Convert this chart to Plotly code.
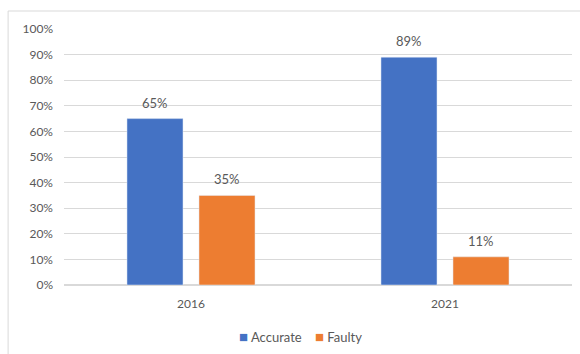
import plotly.graph_objects as go

years = ["2016", "2021"]
accurate = [0.65, 0.89]
faulty = [0.35, 0.11]
y_ticks = [0, 0.1, 0.2, 0.3, 0.4, 0.5, 0.6, 0.7, 0.8, 0.9, 1.0]

FONT = "Lato, Liberation Sans, sans-serif"
BLUE = "#4472c4"
ORANGE = "#ed7d31"
GREY = "#595959"

series = [("Accurate", accurate, BLUE, -36), ("Faulty", faulty, ORANGE, 36)]

fig = go.Figure()
annotations = []
for name, vals, color, shift in series:
    fig.add_trace(go.Bar(x=years, y=vals, name=name, marker_color=color, showlegend=False))
    # value labels sitting above each bar (x given as category index)
    for idx, v in enumerate(vals):
        annotations.append(dict(
            x=idx, y=v, xref="x", yref="y", text=f"{round(v * 100)}%",
            showarrow=False, yanchor="bottom", xshift=shift, yshift=6,
            font=dict(family=FONT, size=13, color=GREY),
        ))

# compact legend row under the axis
legend_text = (f"<span style='color:{BLUE};font-size:15px'>■</span> Accurate    "
               f"<span style='color:{ORANGE};font-size:15px'>■</span> Faulty")
annotations.append(dict(
    x=0.4665, y=-0.199, xref="paper", yref="paper", text=legend_text,
    showarrow=False, xanchor="center", yanchor="middle",
    font=dict(family=FONT, size=13, color=GREY),
))

fig.update_layout(
    width=580, height=354,
    margin=dict(l=64, r=8, t=29, b=69),
    paper_bgcolor="white", plot_bgcolor="white",
    barmode="group", bargap=0.433, bargroupgap=0.222,
    font=dict(family=FONT, size=12, color=GREY),
    showlegend=False,
    annotations=annotations,
    xaxis=dict(type="category", range=[-0.5, 1.5], showgrid=False, showline=False,
               ticks="", ticklabelstandoff=10, tickfont=dict(size=12, color=GREY)),
    yaxis=dict(range=[0, 1.0], tickvals=y_ticks, tickformat=".0%",
               showgrid=True, gridcolor="#d9d9d9", gridwidth=1,
               zeroline=True, zerolinecolor="#d9d9d9", showline=False,
               ticks="", ticklabelstandoff=10,
               tickfont=dict(size=12, color=GREY)),
    shapes=[
        dict(type="line", xref="paper", yref="paper", x0=-0.110, x1=1.02, y0=1.0703, y1=1.0703,
             line=dict(color="#d9d9d9", width=1)),
        dict(type="line", xref="paper", yref="paper", x0=-0.110, x1=-0.110, y0=1.0703, y1=-0.28,
             line=dict(color="#d9d9d9", width=1)),
    ],
)

fig.write_html("out.html")
